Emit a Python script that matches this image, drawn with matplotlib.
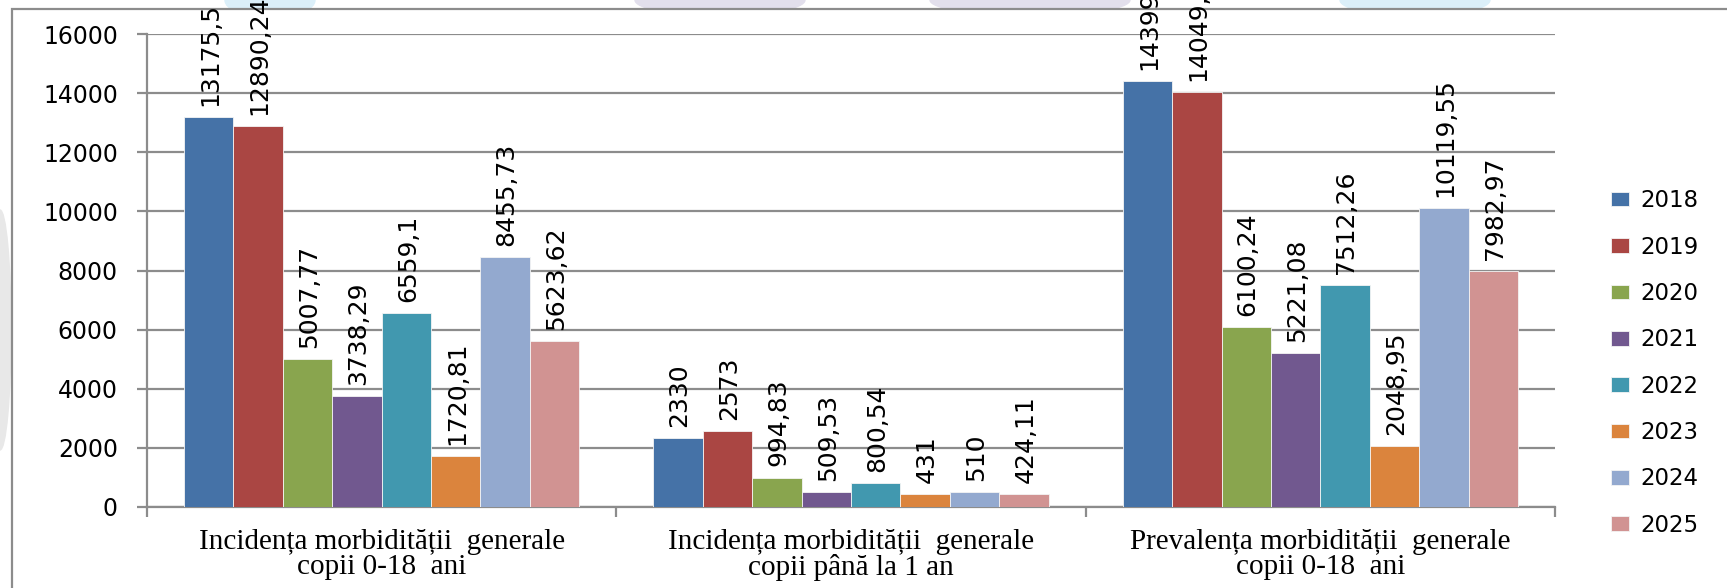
import numpy as np
import matplotlib
matplotlib.use("Agg")
import matplotlib.pyplot as plt
from matplotlib.patches import Rectangle, Ellipse

# --- data ---------------------------------------------------------------
categories = [
    "Incidența morbidității  generale\ncopii 0-18  ani",
    "Incidența morbidității  generale\ncopii până la 1 an",
    "Prevalența morbidității  generale\ncopii 0-18  ani",
]
years = ["2018", "2019", "2020", "2021", "2022", "2023", "2024", "2025"]

v2018 = [13175.5, 2330, 14399.4]
v2019 = [12890.24, 2573, 14049.83]
v2020 = [5007.77, 994.83, 6100.24]
v2021 = [3738.29, 509.53, 5221.08]
v2022 = [6559.1, 800.54, 7512.26]
v2023 = [1720.81, 431, 2048.95]
v2024 = [8455.73, 510, 10119.55]
v2025 = [5623.62, 424.11, 7982.97]
series = [v2018, v2019, v2020, v2021, v2022, v2023, v2024, v2025]

colors = ["#4572A7", "#AA4643", "#89A54E", "#71588F",
          "#4198AF", "#DB843D", "#93A9CF", "#D19392"]

yticks = [0, 2000, 4000, 6000, 8000, 10000, 12000, 14000, 16000]

# --- figure -------------------------------------------------------------
W, H = 1727, 588
fig = plt.figure(figsize=(W / 100, H / 100), dpi=100)

# faint watermark shapes behind the chart
for (cx, cy, w, h, c) in [(270, 0, 90, 36, "#dbeff9"), (720, 0, 170, 32, "#e2dfec"),
                          (1030, 0, 200, 32, "#e2dfec"), (1415, 0, 150, 32, "#dbeff9"),
                          (0, 330, 22, 240, "#e8e8e8")]:
    fig.add_artist(Ellipse((cx / W, 1 - cy / H), w / W, h / H,
                           transform=fig.transFigure, color=c, zorder=-5))

# chart frame (runs off the right and bottom edges)
frame = Rectangle((12 / W, -0.2), 1.2, 1.2 - 9 / H, transform=fig.transFigure,
                  facecolor="white", edgecolor="#8c8c8c", linewidth=1.6, zorder=-1)
fig.add_artist(frame)

ax = fig.add_axes([147 / W, 1 - 507 / H, (1555 - 147) / W, (507 - 34) / H])
ax.set_facecolor("none")

x = np.arange(len(categories))
n = len(series)
bw = 1.0 / (n + 1.5)

for i, (vals, yr, col) in enumerate(zip(series, years, colors)):
    pos = x + (i - (n - 1) / 2) * bw
    bars = ax.bar(pos, vals, width=bw, color=col, edgecolor="#f4f4f4",
                  linewidth=0.6, label=yr, zorder=3)
    for b, v in zip(bars, vals):
        txt = str(v).replace(".", ",")
        ax.annotate(txt, (b.get_x() + b.get_width() / 2, b.get_height()),
                    xytext=(1, 8), textcoords="offset points",
                    rotation=90, ha="center", va="bottom",
                    fontsize=18, family="DejaVu Sans", color="black",
                    annotation_clip=False, zorder=5)

ax.set_xlim(-0.5, len(categories) - 0.5)
ax.set_ylim(0, 16000)
ax.set_yticks(yticks)
ax.set_yticklabels([str(t) for t in yticks], fontsize=17, family="DejaVu Sans")
ax.yaxis.grid(True, color="#8c8c8c", linewidth=1.6, zorder=0)
ax.set_axisbelow(True)

ax.set_xticks(x)
ax.set_xticklabels(categories, fontsize=21, family="Liberation Serif",
                   linespacing=0.93)
ax.tick_params(axis="x", length=0, pad=16)
ax.set_xticks(np.arange(-0.5, len(categories), 1.0), minor=True)
ax.tick_params(axis="x", which="minor", length=7, width=1.6, color="#8c8c8c",
               direction="out")
ax.tick_params(axis="y", length=7, width=1.6, color="#8c8c8c", pad=14,
               direction="out")

for side in ["top", "right"]:
    ax.spines[side].set_visible(False)
for side in ["left", "bottom"]:
    ax.spines[side].set_color("#8c8c8c")
    ax.spines[side].set_linewidth(1.6)

leg = fig.legend(loc="center left", bbox_to_anchor=(1602 / W, 1 - 363 / H),
                 frameon=False, fontsize=16.5, handlelength=0.79,
                 handleheight=0.61, handletextpad=0.48, labelspacing=1.02,
                 borderaxespad=0)
for t in leg.get_texts():
    t.set_family("DejaVu Sans")

fig.savefig("out.png", dpi=100)
